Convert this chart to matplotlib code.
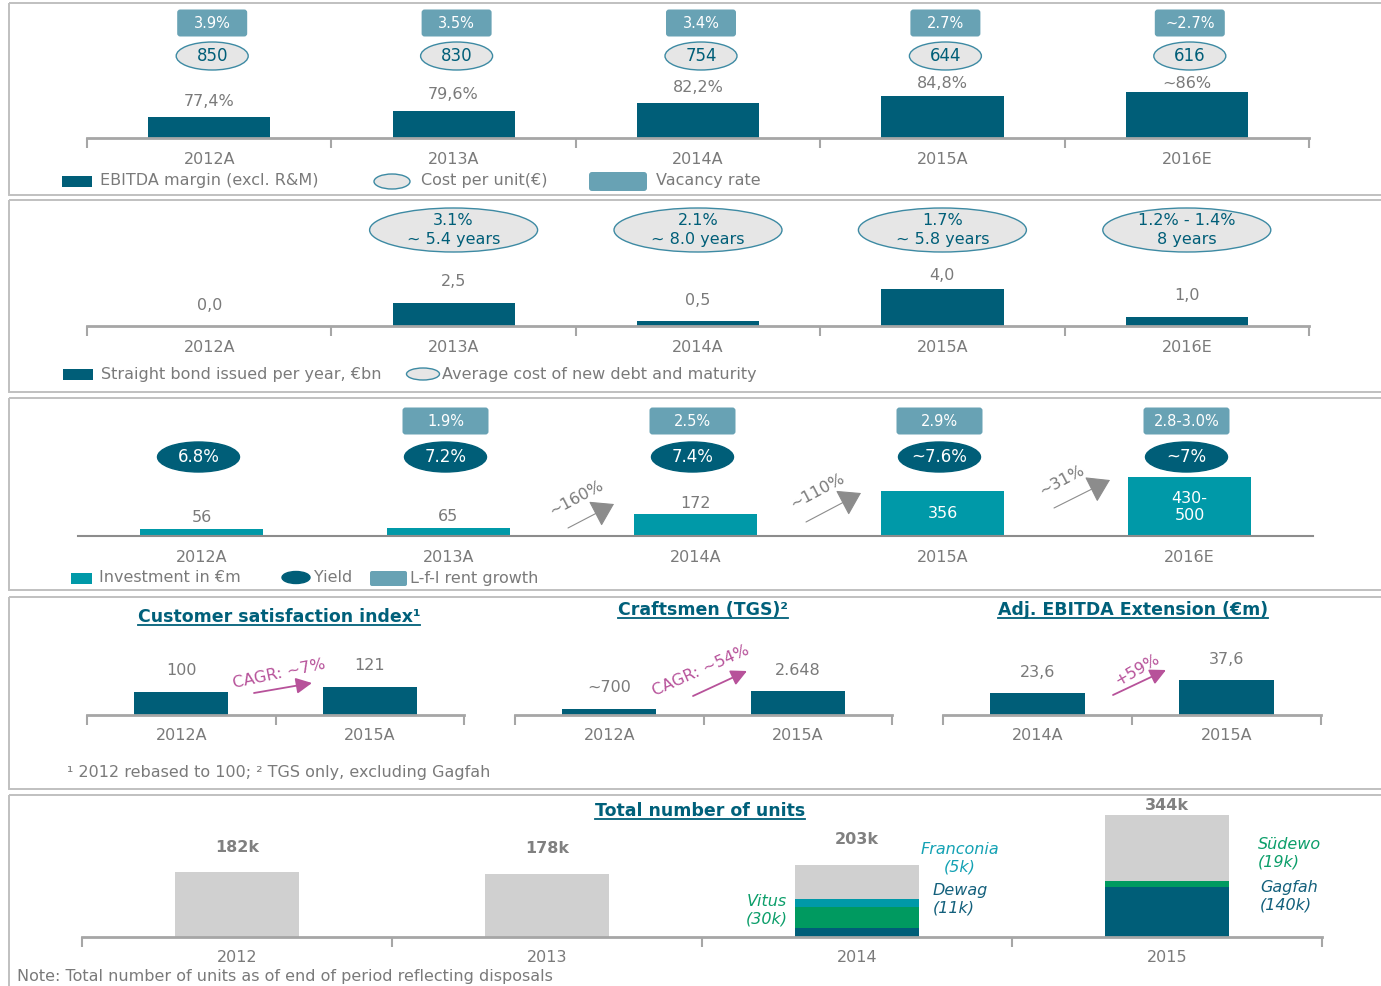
import matplotlib
matplotlib.use('Agg')
import matplotlib.pyplot as plt
import numpy as np
from matplotlib.patches import Rectangle, Ellipse, FancyBboxPatch

W, H = 1381, 986
DPI = 100
PT = 72 / DPI  # pixel -> point

# ---------------- data ----------------
years5 = ['2012A', '2013A', '2014A', '2015A', '2016E']
ebitda_margin = [77.4, 79.6, 82.2, 84.8, 86.0]
ebitda_labels = ['77,4%', '79,6%', '82,2%', '84,8%', '~86%']
cost_per_unit = ['850', '830', '754', '644', '616']
vacancy_rate = ['3.9%', '3.5%', '3.4%', '2.7%', '~2.7%']

bond_issued = [0.0, 2.5, 0.5, 4.0, 1.0]
bond_labels = ['0,0', '2,5', '0,5', '4,0', '1,0']
debt_cost = [None, '3.1%\n~ 5.4 years', '2.1%\n~ 8.0 years', '1.7%\n~ 5.8 years', '1.2% - 1.4%\n8 years']

investment = [56, 65, 172, 356, 465]
investment_labels = ['56', '65', '172', '356', '430-\n500']
yields = ['6.8%', '7.2%', '7.4%', '~7.6%', '~7%']
lfl_growth = [None, '1.9%', '2.5%', '2.9%', '2.8-3.0%']
invest_growth = ['~160%', '~110%', '~31%']

csi_years = ['2012A', '2015A']
csi_values = [100, 121]
csi_labels = ['100', '121']
tgs_years = ['2012A', '2015A']
tgs_values = [700, 2648]
tgs_labels = ['~700', '2.648']
ext_years = ['2014A', '2015A']
ext_values = [23.6, 37.6]
ext_labels = ['23,6', '37,6']

unit_years = ['2012', '2013', '2014', '2015']
units_total = [182, 178, 203, 344]
units_total_labels = ['182k', '178k', '203k', '344k']
units_dark = [0, 0, 25, 140]      # Dewag (2014) / Gagfah (2015)
units_green = [0, 0, 59, 19]      # Vitus (2014) / Südewo (2015)
units_cyan = [0, 0, 22, 0]        # Franconia (2014)

# ---------------- styles ----------------
DARK = '#005E78'
VAC = '#68A2B4'
CYAN = '#0099A8'
GREEN = '#009A60'
LBAR = '#D0D0D0'
ELL_FILL = '#E6E6E6'
ELL_EDGE = '#3D8AA3'
TXT = '#7A7A7A'
AXIS = '#A6A6A6'
PINK = '#B7529A'
TITLE = '#00607A'
BORDER = '#C0C0C0'
FS = 11.5

plt.rcParams['font.family'] = ['DejaVu Sans']

fig = plt.figure(figsize=(W / DPI, H / DPI), dpi=DPI)
bg = fig.add_axes([0, 0, 1, 1])
bg.set_xlim(0, W)
bg.set_ylim(H, 0)
bg.axis('off')

# panel borders
for (y0, y1) in [(3, 195), (200, 392), (398, 590), (597, 789), (795, 992)]:
    bg.add_patch(Rectangle((9, y0), 1400, y1 - y0, fill=False, ec=BORDER, lw=1.4))


def bar_axes(x0, x1, y_axis, y_top, n, base, ppu, ticks=True, lw=2.0, color=AXIS):
    ax = fig.add_axes([x0 / W, 1 - y_axis / H, (x1 - x0) / W, (y_axis - y_top) / H])
    ax.set_xlim(-0.5, n - 0.5)
    ax.set_ylim(base, base + (y_axis - y_top) / ppu)
    ax.patch.set_visible(False)
    for s in ['top', 'right', 'left']:
        ax.spines[s].set_visible(False)
    ax.spines['bottom'].set_color(color)
    ax.spines['bottom'].set_linewidth(lw)
    ax.set_yticks([])
    if ticks:
        ax.set_xticks(np.arange(n + 1) - 0.5)
        ax.tick_params(axis='x', direction='out', length=7, width=1.5, color=color,
                       labelbottom=False)
    else:
        ax.set_xticks([])
    return ax


def cat_labels(ax, cats, off_px, color=TXT, fs=FS):
    for i, c in enumerate(cats):
        ax.annotate(c, xy=(i, 0), xycoords=('data', 'axes fraction'),
                    xytext=(0, -off_px * PT), textcoords='offset points',
                    ha='center', va='center', color=color, fontsize=fs,
                    annotation_clip=False)


def bar_top_px(ax, i, v):
    """pixel position (from top) of the top of bar i with value v"""
    x, y = ax.transData.transform((i, v))
    return x, H - y


def val_labels(ax, vals, labels, off_px, y_min=None, color=TXT, fs=FS, bold=False):
    for i, (v, l) in enumerate(zip(vals, labels)):
        x, yt = bar_top_px(ax, i, v)
        y = yt - off_px
        if y_min is not None:
            y = max(y, y_min)
        bg.text(x, y, l, ha='center', va='center', color=color, fontsize=fs,
                fontweight='bold' if bold else 'normal')


def centers(x0, x1, n):
    step = (x1 - x0) / n
    return [x0 + step * (i + 0.5) for i in range(n)]


def rbox(x, y, w, h, text, fs=10.5):
    bg.add_patch(FancyBboxPatch((x - w / 2, y - h / 2), w, h,
                                boxstyle='round,pad=0,rounding_size=3',
                                fc=VAC, ec='none'))
    if text:
        bg.text(x, y, text, ha='center', va='center', color='white', fontsize=fs)


def ell(x, y, w, h, text, fc=ELL_FILL, ec=ELL_EDGE, tc=DARK, fs=12, ls=1.3):
    bg.add_patch(Ellipse((x, y), w, h, fc=fc, ec=ec, lw=1.0))
    if text:
        bg.text(x, y, text, ha='center', va='center', color=tc, fontsize=fs,
                linespacing=ls)


def legend_text(x, y, s):
    bg.text(x, y, s, ha='left', va='center', color=TXT, fontsize=FS)


def underlined(x, y, s, fs=12.5):
    t = bg.text(x, y, s, ha='center', va='center', color=TITLE, fontsize=fs,
                fontweight='bold')
    fig.canvas.draw()
    bb = t.get_window_extent()
    yl = H - bb.y0 - 1
    bg.plot([bb.x0, bb.x1], [yl, yl], color=TITLE, lw=1.3)


# ================= Panel 1 =================
ax1 = bar_axes(87, 1309, 138, 60, 5, 70.16, 2.9)
ax1.bar(range(5), ebitda_margin, width=0.5, color=DARK)
cat_labels(ax1, years5, 22)
cx1 = centers(87, 1309, 5)
for x, v, c in zip(cx1, vacancy_rate, cost_per_unit):
    rbox(x + 3, 23, 70, 27, v)
    ell(x + 3, 56, 72, 28, c)
bg.add_patch(Rectangle((62, 176), 30, 11, fc=DARK, ec='none'))
legend_text(100, 181, 'EBITDA margin (excl. R&M)')
ell(392, 181.5, 36, 15, None)
legend_text(421, 181, 'Cost per unit(€)')
bg.add_patch(FancyBboxPatch((589, 172), 58, 19, boxstyle='round,pad=0,rounding_size=3',
                            fc=VAC, ec='none'))
legend_text(656, 181, 'Vacancy rate')

# ================= Panel 2 =================
ax2 = bar_axes(87, 1309, 326, 260, 5, 0, 9.2)
ax2.bar(range(5), bond_issued, width=0.5, color=DARK)
cat_labels(ax2, years5, 21)
for x, d in zip(cx1, debt_cost):
    if d:
        ell(x, 230, 168, 44, d, fs=11.5)
bg.add_patch(Rectangle((63, 369), 30, 11, fc=DARK, ec='none'))
legend_text(101, 374, 'Straight bond issued per year, €bn')
ell(423, 374, 33, 12, None)
legend_text(442, 374, 'Average cost of new debt and maturity')

# ================= Panel 3 =================
ax3 = bar_axes(78, 1313, 536, 440, 5, 0, 0.126, ticks=False, lw=1.5, color='#8C8C8C')
ax3.bar(range(5), investment, width=0.5, color=CYAN)
for i, (v, l) in enumerate(zip(investment, investment_labels)):
    if v > 300:
        ax3.text(i, v / 2, l, ha='center', va='center', color='white', fontsize=FS,
                 linespacing=1.2)
cat_labels(ax3, years5, 21)
cx3 = centers(78, 1313, 5)
for x, yv, lf in zip(cx3, yields, lfl_growth):
    if lf:
        rbox(x - 3, 421, 86, 27, lf)
    ell(x - 3, 457, 82, 30, yv, fc=DARK, ec=DARK, tc='white', fs=12)
# growth arrows between bars
arrow_specs = [((568, 528), (614, 504), (576, 498), 28),
               ((806, 522), (861, 493), (817, 491), 28),
               ((1054, 508), (1110, 480), (1062, 481), 28)]
for g, (p0, p1, tp, rot) in zip(invest_growth, arrow_specs):
    bg.annotate('', xy=p1, xytext=p0,
                arrowprops=dict(arrowstyle='-|>,head_length=0.7,head_width=0.45',
                                color='#8C8C8C', lw=0.8, mutation_scale=20,
                                shrinkA=0, shrinkB=0))
    bg.text(tp[0], tp[1], g, rotation=rot, ha='center', va='center', color=TXT,
            fontsize=FS)
bg.add_patch(Rectangle((71, 573), 21, 11, fc=CYAN, ec='none'))
legend_text(99, 578, 'Investment in €m')
ell(296, 577.5, 28, 12, None, fc=DARK, ec=DARK)
legend_text(314, 578, 'Yield')
bg.add_patch(FancyBboxPatch((370, 571), 37, 15, boxstyle='round,pad=0,rounding_size=2',
                            fc=VAC, ec='none'))
legend_text(410, 579, 'L-f-l rent growth')

# ================= Panel 4 =================
sub_axes = []
sub_specs = [(87, 464, csi_years, csi_values, csi_labels, 0.232),
             (515, 892, tgs_years, tgs_values, tgs_labels, 0.00906),
             (943, 1321, ext_years, ext_values, ext_labels, 0.93)]
for x0, x1, yrs, vals, labs, ppu in sub_specs:
    ax = bar_axes(x0, x1, 715, 640, 2, 0, ppu)
    ax.bar(range(2), vals, width=0.5, color=DARK)
    cat_labels(ax, yrs, 20)
    sub_axes.append((ax, vals, labs))

underlined(279, 617, 'Customer satisfaction index¹')
underlined(703, 610, 'Craftsmen (TGS)²')
underlined(1133, 610, 'Adj. EBITDA Extension (€m)')

pink_specs = [('CAGR: ~7%', (279, 674), 12, (254, 693), (312, 683)),
              ('CAGR: ~54%', (701, 671), 24, (693, 696), (747, 671)),
              ('+59%', (1137, 670), 30, (1113, 695), (1166, 670))]
for s, tp, rot, p0, p1 in pink_specs:
    bg.text(tp[0], tp[1], s, rotation=rot, ha='center', va='center', color=PINK,
            fontsize=FS)
    bg.annotate('', xy=p1, xytext=p0,
                arrowprops=dict(arrowstyle='-|>,head_length=0.6,head_width=0.3',
                                color=PINK, lw=1.3, mutation_scale=16,
                                shrinkA=0, shrinkB=0))
bg.text(67, 772, '¹ 2012 rebased to 100; ² TGS only, excluding Gagfah', ha='left',
        va='center', color=TXT, fontsize=FS)

# ================= Panel 5 =================
ax5 = bar_axes(82, 1322, 937, 800, 4, 0, 0.355)
ax5.bar(range(4), units_total, width=0.4, color=LBAR)
b = np.zeros(4)
for seg, col in [(units_dark, DARK), (units_green, GREEN), (units_cyan, CYAN)]:
    ax5.bar(range(4), seg, width=0.4, bottom=b, color=col)
    b = b + np.array(seg)
cat_labels(ax5, unit_years, 21)
underlined(700, 811, 'Total number of units')
COL_CY = '#14A2B4'
COL_GR = '#0C9E6A'
COL_DK = '#13607C'
bg.text(767, 910, 'Vitus\n(30k)', ha='center', va='center', color=COL_GR, fontsize=FS,
        style='italic', linespacing=1.2)
bg.text(960, 858, 'Franconia\n(5k)', ha='center', va='center', color=COL_CY, fontsize=FS,
        style='italic', linespacing=1.2)
bg.text(933, 899, 'Dewag\n(11k)', ha='left', va='center', color=COL_DK, fontsize=FS,
        style='italic', linespacing=1.2)
bg.text(1258, 853, 'Südewo\n(19k)', ha='left', va='center', color=COL_GR, fontsize=FS,
        style='italic', linespacing=1.2)
bg.text(1260, 896, 'Gagfah\n(140k)', ha='left', va='center', color=COL_DK, fontsize=FS,
        style='italic', linespacing=1.2)
bg.text(17, 976, 'Note: Total number of units as of end of period reflecting disposals',
        ha='left', va='center', color=TXT, fontsize=FS)

# ---- value labels (positions derived from the axes' own scales) ----
fig.canvas.draw()
val_labels(ax1, ebitda_margin, ebitda_labels, 16, y_min=84)
val_labels(ax2, bond_issued, bond_labels, 21, y_min=276)
small = [i for i, v in enumerate(investment) if v <= 300]
val_labels(ax3, [investment[i] for i in small], [investment_labels[i] for i in small], 11)
for ax, vals, labs in sub_axes:
    val_labels(ax, vals, labs, 21)
val_labels(ax5, units_total, units_total_labels, 25, y_min=806, color='#808080', bold=True)

fig.savefig('out.png', dpi=DPI)
